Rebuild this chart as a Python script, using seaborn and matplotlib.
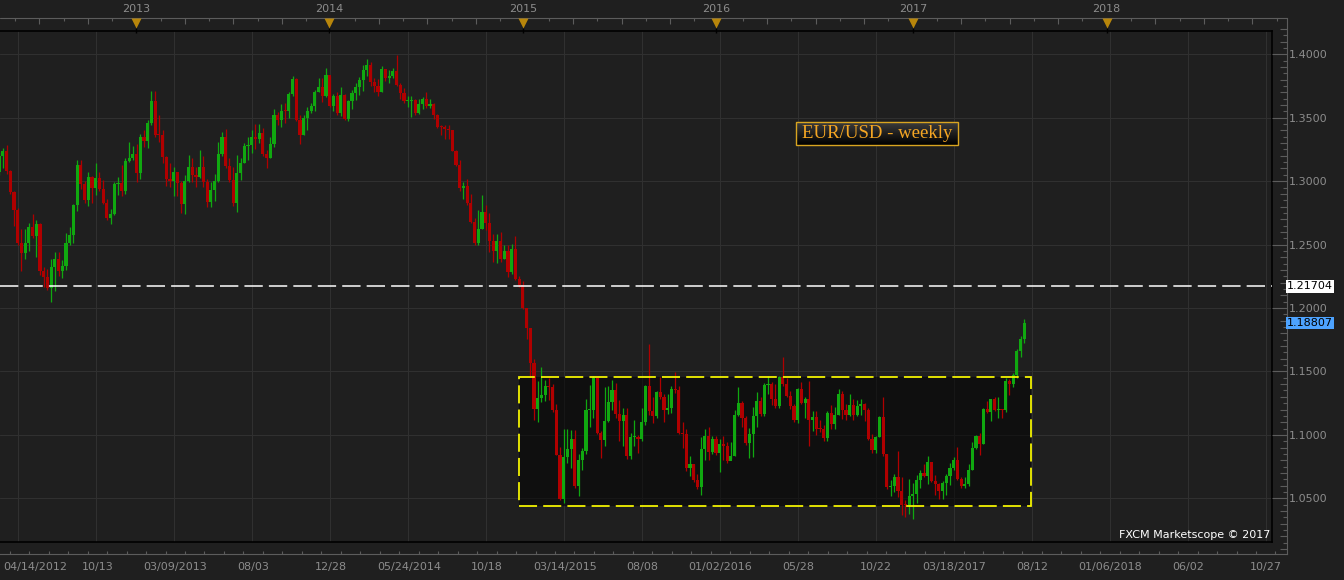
import numpy as np
import matplotlib.pyplot as plt
import seaborn as sns
from matplotlib.patches import Rectangle
from matplotlib.colors import LinearSegmentedColormap

BG = "#1f1f1f"
GRID = "#303030"
AXIS = "#5c5c5c"
LABEL = "#8c8c8c"
GREEN = "#10a810"
RED = "#b00000"
GOLD = "#b8860b"
YELLOW = "#f2f200"
BLUE = "#4da3ff"

sns.set_theme(style="dark", rc={"axes.facecolor": BG, "figure.facecolor": BG,
                                "savefig.facecolor": BG})
plt.rcParams["font.family"] = ["DejaVu Sans"]

# ── data: weekly EUR/USD candles, week 0 = 10/13/2012 ─────────────
week = np.arange(-26, 251)
first_open = 1.3075
close = np.array([
    1.3195, 1.3240, 1.3080, 1.2915, 1.2775, 1.2515, 1.2435, 1.2515, 1.2640, 1.2570,
    1.2665, 1.2290, 1.2245, 1.2155, 1.2320, 1.2385, 1.2290, 1.2335, 1.2510, 1.2575,
    1.2815, 1.3125, 1.2980, 1.2855, 1.3035, 1.2950, 1.3025, 1.2940, 1.2830, 1.2710,
    1.2740, 1.2975, 1.2985, 1.2925, 1.3160, 1.3185, 1.3215, 1.3065, 1.3345, 1.3315,
    1.3455, 1.3635, 1.3365, 1.3360, 1.3190, 1.3020, 1.3000, 1.3075, 1.2985, 1.2820,
    1.3000, 1.3110, 1.3050, 1.3030, 1.3115, 1.2990, 1.2835, 1.2930, 1.3000, 1.3215,
    1.3345, 1.3120, 1.3010, 1.2830, 1.3065, 1.3140, 1.3280, 1.3285, 1.3345, 1.3335,
    1.3380, 1.3215, 1.3180, 1.3295, 1.3525, 1.3485, 1.3555, 1.3550, 1.3685, 1.3805,
    1.3485, 1.3365, 1.3500, 1.3555, 1.3590, 1.3705, 1.3740, 1.3675, 1.3835, 1.3590,
    1.3670, 1.3540, 1.3676, 1.3487, 1.3635, 1.3693, 1.3740, 1.3801, 1.3874, 1.3913,
    1.3780, 1.3750, 1.3705, 1.3888, 1.3812, 1.3830, 1.3870, 1.3757, 1.3694, 1.3630,
    1.3635, 1.3642, 1.3540, 1.3605, 1.3645, 1.3590, 1.3605, 1.3525, 1.3430, 1.3425,
    1.3410, 1.3400, 1.3240, 1.3130, 1.2950, 1.2960, 1.2830, 1.2680, 1.2515, 1.2625,
    1.2760, 1.2670, 1.2525, 1.2450, 1.2525, 1.2390, 1.2450, 1.2285, 1.2465, 1.2230,
    1.2185, 1.2000, 1.1840, 1.1565, 1.1205, 1.1290, 1.1315, 1.1385, 1.1380, 1.1195,
    1.0845, 1.0495, 1.0825, 1.0890, 1.0970, 1.0600, 1.0805, 1.0875, 1.1195, 1.1200,
    1.1450, 1.1015, 1.0960, 1.1110, 1.1260, 1.1350, 1.1165, 1.1110, 1.1160, 1.0830,
    1.0980, 1.0985, 1.0970, 1.1105, 1.1385, 1.1185, 1.1150, 1.1335, 1.1300, 1.1195,
    1.1210, 1.1360, 1.1350, 1.1015, 1.1005, 1.0740, 1.0770, 1.0645, 1.0590, 1.0885,
    1.0990, 1.0865, 1.0965, 1.0860, 1.0925, 1.0915, 1.0795, 1.0830, 1.1155, 1.1255,
    1.1130, 1.0935, 1.1005, 1.1150, 1.1270, 1.1165, 1.1390, 1.1400, 1.1285, 1.1225,
    1.1455, 1.1405, 1.1310, 1.1225, 1.1115, 1.1365, 1.1250, 1.1280, 1.1115, 1.1140,
    1.1050, 1.1045, 1.0975, 1.1175, 1.1085, 1.1160, 1.1325, 1.1195, 1.1155, 1.1235,
    1.1155, 1.1225, 1.1240, 1.1200, 1.0970, 1.0880, 1.0985, 1.1140, 1.0850, 1.0590,
    1.0595, 1.0665, 1.0560, 1.0450, 1.0445, 1.0520, 1.0535, 1.0645, 1.0700, 1.0675,
    1.0785, 1.0640, 1.0615, 1.0560, 1.0620, 1.0675, 1.0740, 1.0800, 1.0650, 1.0595,
    1.0615, 1.0725, 1.0895, 1.0995, 1.0930, 1.1205, 1.1180, 1.1280, 1.1195, 1.1200,
    1.1195, 1.1425, 1.1400, 1.1470, 1.1665, 1.1755, 1.1881,
])
high = np.array([
    1.3230, 1.3265, 1.3285, 1.3085, 1.2920, 1.2790, 1.2625, 1.2625, 1.2670, 1.2745,
    1.2690, 1.2670, 1.2325, 1.2310, 1.2390, 1.2445, 1.2445, 1.2380, 1.2590, 1.2640,
    1.2820, 1.3170, 1.3170, 1.3000, 1.3070, 1.3040, 1.3140, 1.3070, 1.3010, 1.2860,
    1.2780, 1.2990, 1.3030, 1.3125, 1.3180, 1.3310, 1.3280, 1.3290, 1.3370, 1.3400,
    1.3480, 1.3710, 1.3710, 1.3520, 1.3400, 1.3200, 1.3140, 1.3115, 1.3050, 1.3000,
    1.3050, 1.3205, 1.3180, 1.3110, 1.3245, 1.3195, 1.3015, 1.2995, 1.3060, 1.3305,
    1.3390, 1.3415, 1.3180, 1.3110, 1.3205, 1.3185, 1.3300, 1.3345, 1.3400, 1.3450,
    1.3450, 1.3420, 1.3245, 1.3345, 1.3570, 1.3545, 1.3605, 1.3620, 1.3705, 1.3832,
    1.3815, 1.3525, 1.3520, 1.3585, 1.3620, 1.3720, 1.3810, 1.3810, 1.3893, 1.3830,
    1.3690, 1.3700, 1.3740, 1.3690, 1.3640, 1.3715, 1.3775, 1.3825, 1.3915, 1.3966,
    1.3940, 1.3810, 1.3805, 1.3905, 1.3865, 1.3875, 1.3890, 1.3993, 1.3775, 1.3735,
    1.3670, 1.3670, 1.3650, 1.3645, 1.3660, 1.3700, 1.3645, 1.3615, 1.3530, 1.3445,
    1.3445, 1.3445, 1.3380, 1.3245, 1.3170, 1.2995, 1.3015, 1.2900, 1.2710, 1.2770,
    1.2887, 1.2810, 1.2750, 1.2580, 1.2580, 1.2600, 1.2500, 1.2500, 1.2505, 1.2570,
    1.2255, 1.2215, 1.1975, 1.1830, 1.1600, 1.1425, 1.1535, 1.1435, 1.1450, 1.1405,
    1.1240, 1.0905, 1.1043, 1.1050, 1.1035, 1.1035, 1.0850, 1.0900, 1.1285, 1.1390,
    1.1465, 1.1450, 1.1030, 1.1380, 1.1385, 1.1435, 1.1410, 1.1275, 1.1215, 1.1215,
    1.1015, 1.1115, 1.1000, 1.1215, 1.1390, 1.1714, 1.1295, 1.1345, 1.1460, 1.1320,
    1.1320, 1.1385, 1.1495, 1.1385, 1.1100, 1.1045, 1.0835, 1.0770, 1.0690, 1.0980,
    1.1045, 1.1060, 1.0990, 1.0990, 1.0970, 1.0990, 1.0945, 1.0945, 1.1200, 1.1376,
    1.1270, 1.1145, 1.1055, 1.1218, 1.1340, 1.1300, 1.1410, 1.1465, 1.1415, 1.1400,
    1.1465, 1.1616, 1.1445, 1.1345, 1.1240, 1.1370, 1.1415, 1.1300, 1.1428, 1.1185,
    1.1185, 1.1120, 1.1080, 1.1190, 1.1235, 1.1220, 1.1365, 1.1345, 1.1245, 1.1325,
    1.1285, 1.1275, 1.1280, 1.1255, 1.1215, 1.1010, 1.0990, 1.1145, 1.1300, 1.0850,
    1.0645, 1.0690, 1.0874, 1.0665, 1.0490, 1.0650, 1.0620, 1.0685, 1.0725, 1.0770,
    1.0830, 1.0785, 1.0680, 1.0620, 1.0635, 1.0690, 1.0775, 1.0825, 1.0905, 1.0665,
    1.0670, 1.0770, 1.0947, 1.1000, 1.1015, 1.1210, 1.1265, 1.1285, 1.1295, 1.1295,
    1.1205, 1.1445, 1.1440, 1.1490, 1.1675, 1.1777, 1.1910,
])
low = np.array([
    1.3050, 1.3100, 1.3060, 1.2900, 1.2650, 1.2495, 1.2290, 1.2385, 1.2450, 1.2550,
    1.2405, 1.2260, 1.2165, 1.2145, 1.2050, 1.2135, 1.2250, 1.2240, 1.2300, 1.2500,
    1.2510, 1.2765, 1.2935, 1.2830, 1.2805, 1.2830, 1.2890, 1.2925, 1.2820, 1.2690,
    1.2665, 1.2730, 1.2890, 1.2880, 1.2900, 1.3150, 1.3170, 1.2995, 1.3020, 1.3270,
    1.3260, 1.3440, 1.3350, 1.3310, 1.3145, 1.2965, 1.2955, 1.2880, 1.2880, 1.2750,
    1.2740, 1.2990, 1.2995, 1.2955, 1.3025, 1.2955, 1.2795, 1.2800, 1.2845, 1.2995,
    1.3200, 1.3100, 1.2990, 1.2805, 1.2755, 1.3010, 1.3140, 1.3170, 1.3225, 1.3250,
    1.3300, 1.3200, 1.3105, 1.3180, 1.3270, 1.3440, 1.3425, 1.3460, 1.3500, 1.3675,
    1.3475, 1.3296, 1.3360, 1.3400, 1.3540, 1.3550, 1.3700, 1.3625, 1.3660, 1.3585,
    1.3550, 1.3520, 1.3510, 1.3480, 1.3475, 1.3570, 1.3640, 1.3680, 1.3710, 1.3830,
    1.3750, 1.3705, 1.3670, 1.3700, 1.3790, 1.3775, 1.3810, 1.3750, 1.3650, 1.3615,
    1.3585, 1.3503, 1.3520, 1.3530, 1.3565, 1.3575, 1.3580, 1.3490, 1.3420, 1.3365,
    1.3335, 1.3335, 1.3235, 1.3120, 1.2920, 1.2860, 1.2815, 1.2670, 1.2500, 1.2500,
    1.2620, 1.2615, 1.2440, 1.2360, 1.2355, 1.2360, 1.2385, 1.2245, 1.2270, 1.2220,
    1.2165, 1.1995, 1.1755, 1.1460, 1.1115, 1.1098, 1.1260, 1.1270, 1.1275, 1.1180,
    1.0840, 1.0485, 1.0462, 1.0780, 1.0735, 1.0580, 1.0520, 1.0720, 1.0850, 1.1065,
    1.1135, 1.1010, 1.0820, 1.0910, 1.1100, 1.1200, 1.1130, 1.0955, 1.0915, 1.0810,
    1.0810, 1.0910, 1.0860, 1.0955, 1.1080, 1.1155, 1.1090, 1.1135, 1.1285, 1.1105,
    1.1165, 1.1170, 1.1330, 1.1010, 1.0895, 1.0715, 1.0675, 1.0630, 1.0570, 1.0524,
    1.0800, 1.0805, 1.0850, 1.0845, 1.0710, 1.0805, 1.0775, 1.0810, 1.0830, 1.1150,
    1.1065, 1.0920, 1.0820, 1.0822, 1.1060, 1.1145, 1.1145, 1.1325, 1.1235, 1.1215,
    1.1215, 1.1385, 1.1300, 1.1205, 1.1100, 1.1095, 1.1240, 1.1130, 1.0912, 1.1030,
    1.1000, 1.1020, 1.0950, 1.0950, 1.1045, 1.1045, 1.1160, 1.1125, 1.1120, 1.1145,
    1.1120, 1.1150, 1.1160, 1.1110, 1.0960, 1.0860, 1.0860, 1.0980, 1.0835, 1.0570,
    1.0515, 1.0550, 1.0510, 1.0365, 1.0350, 1.0375, 1.0340, 1.0460, 1.0585, 1.0665,
    1.0615, 1.0630, 1.0525, 1.0495, 1.0495, 1.0525, 1.0605, 1.0725, 1.0645, 1.0585,
    1.0580, 1.0600, 1.0725, 1.0885, 1.0840, 1.0930, 1.1170, 1.1110, 1.1185, 1.1135,
    1.1130, 1.1180, 1.1315, 1.1375, 1.1445, 1.1615, 1.1728,
])

# x labels: the first candle's date sits at the left edge, the rest on gridlines
first_label = "04/14/2012"
grid_weeks = [-21, 0, 21, 42, 63, 84, 105, 126, 147, 168, 189, 210, 231, 252,
              273, 294, 315]
grid_labels = ["", "10/13", "03/09/2013", "08/03", "12/28", "05/24/2014", "10/18",
               "03/14/2015", "08/08", "01/02/2016", "05/28", "10/22", "03/18/2017",
               "08/12", "01/06/2018", "06/02", "10/27"]
year_weeks = [10.93, 62.9, 115.1, 167.1, 220.1, 272.2]
year_labels = ["2013", "2014", "2015", "2016", "2017", "2018"]
price_ticks = [1.05, 1.10, 1.15, 1.20, 1.25, 1.30, 1.35, 1.40]
support = 1.21704
last_price = 1.18807
range_weeks = (114.0, 251.7)
range_prices = (1.0439, 1.1454)

# ── pixel geometry ────────────────────────────────────
W, H = 1344, 580
PXW = 78 / 21      # px per week
X0PX = 95.7        # px of week 0
Y140 = 54.3        # px of 1.4000
PXP = 1268.6       # px per price unit


def wk(px):
    return (px - X0PX) / PXW


def pr(py):
    return 1.4 - (py - Y140) / PXP


def rect(x0, y0, x1, y1):
    return [x0 / W, 1 - y1 / H, (x1 - x0) / W, (y1 - y0) / H]


fig = plt.figure(figsize=(W / 100, H / 100), dpi=100)

# ── main panel ────────────────────────────────────────
ax = fig.add_axes(rect(0, 31, 1272, 542))
ax.set_facecolor(BG)
ax.set_xticks(grid_weeks)
ax.set_yticks(price_ticks)
ax.grid(True, color=GRID, lw=0.8)
ax.set_axisbelow(True)
ax.tick_params(length=0, labelbottom=False, labelleft=False)
for s in ["top", "right", "bottom"]:
    ax.spines[s].set_color("black")
    ax.spines[s].set_linewidth(1.2)
ax.spines["left"].set_visible(False)

# range box
rx0, rx1 = range_weeks
ry0, ry1 = range_prices
ax.add_patch(Rectangle((rx0, ry0), rx1 - rx0, ry1 - ry0, fc=(0, 0, 0, 0.5),
                       ec="none", zorder=1))
ax.add_patch(Rectangle((rx0, ry0), rx1 - rx0, ry1 - ry0, fill=False, ec=YELLOW,
                       lw=1.3, ls=(0, (10, 3.4)), zorder=6))

# candles
opens = np.r_[first_open, close[:-1]]
up = close >= opens
cols = np.where(up, GREEN, RED)
ax.vlines(week, low, high, colors=cols, lw=0.9, zorder=3)
body = np.maximum(np.abs(close - opens), 0.0008)
ax.bar(week, body, bottom=np.minimum(opens, close), width=0.85, color=cols,
       lw=0, zorder=4)

ax.axhline(support, color="white", lw=1.1, ls=(0, (12, 4)), zorder=7)

# title box with gradient
tx0, tx1, ty0, ty1 = wk(796), wk(958), pr(145), pr(122.3)
cmap = LinearSegmentedColormap.from_list("g", ["#3c3c3c", "#000000"])
ax.imshow(np.linspace(0, 1, 40).reshape(-1, 1), cmap=cmap, aspect="auto",
          extent=[tx0, tx1, ty0, ty1], origin="upper", zorder=5)
ax.add_patch(Rectangle((tx0, ty0), tx1 - tx0, ty1 - ty0, fill=False,
                       ec="#d9a520", lw=1.0, zorder=6))
ax.text((tx0 + tx1) / 2, (ty0 + ty1) / 2, "EUR/USD - weekly", ha="center",
        va="center", color="#f5a623", fontsize=13.5, family="Liberation Serif",
        zorder=7)

ax.text(1270 / 1272, 7 / 511, "FXCM Marketscope \u00a9 2017", transform=ax.transAxes,
        ha="right", va="center", color="white", fontsize=8, zorder=8)

ax.set_xlim(wk(0), wk(1272))
ax.set_ylim(pr(542), pr(31))

# ── right price axis ──────────────────────────────────
axr = fig.add_axes(rect(1272, 18, 1287, 554))
axr.patch.set_alpha(0)
axr.set_xlim(0, 15)
axr.set_ylim(pr(554), pr(18))
for s in ["top", "left", "bottom"]:
    axr.spines[s].set_visible(False)
axr.spines["right"].set_color(AXIS)
axr.spines["right"].set_linewidth(0.8)
axr.set_xticks([])
axr.yaxis.tick_right()
axr.set_yticks(price_ticks, labels=[f"{p:.4f}" for p in price_ticks])
cents = [round(1.0 + k * 0.01, 2) for k in range(1, 43)]
axr.set_yticks([c for c in cents if round(c * 100) % 5 != 0], minor=True)
axr.tick_params(axis="y", which="major", direction="in", length=10.8, width=0.8,
                color=AXIS, labelcolor=LABEL, labelsize=8, pad=1.5)
axr.tick_params(axis="y", which="minor", direction="in", length=5.4, width=0.8,
                color=AXIS)
axr.hlines([c - 0.005 for c in cents], 11.3, 15, color=AXIS, lw=0.8)
axr.text(15, support, f"{support:.5f}", ha="left", va="center", fontsize=8,
         color="black", clip_on=False,
         bbox=dict(boxstyle="square,pad=0.1", fc="white", ec="none"))
axr.text(15, last_price, f"{last_price:.5f}", ha="left", va="center", fontsize=8,
         color="black", clip_on=False,
         bbox=dict(boxstyle="square,pad=0.1", fc=BLUE, ec="none"))

# ── bottom date axis ──────────────────────────────────
axb = fig.add_axes(rect(0, 542, 1287, 554))
axb.patch.set_alpha(0)
axb.set_xlim(wk(0), wk(1287))
axb.set_ylim(0, 12)
for s in ["top", "left", "right"]:
    axb.spines[s].set_visible(False)
axb.spines["bottom"].set_color(AXIS)
axb.spines["bottom"].set_linewidth(0.8)
axb.set_yticks([])
axb.set_xticks(grid_weeks, labels=grid_labels)
quarters = [-21 + 5.25 * k for k in range(-1, 66)]
axb.set_xticks(quarters, minor=True)
axb.tick_params(axis="x", which="major", direction="in", length=8.6, width=0.8,
                color=AXIS, labelcolor=LABEL, labelsize=8, pad=6)
axb.tick_params(axis="x", which="minor", direction="in", length=4.3, width=0.8,
                color=AXIS)
axb.vlines([q + 2.625 for q in quarters], 0, 3, color=AXIS, lw=0.8)
axb.text(wk(1), -8.3, first_label, ha="left", va="top", color=LABEL, fontsize=8)

# ── top year band ─────────────────────────────────────
axt = fig.add_axes(rect(0, 0, 1287, 31))
axt.set_xlim(wk(0), wk(1287))
axt.set_ylim(31, 0)
axt.axis("off")
axt.axhline(18, color=AXIS, lw=0.8)
step = (year_weeks[-1] - year_weeks[0]) / 40
for j in range(-8, 56):
    if j % 8 == 0:
        continue
    xj = year_weeks[0] + j * step
    axt.vlines(xj, 18, 24 if j % 2 == 0 else 21, color=AXIS, lw=0.8)
axt.vlines(year_weeks, 27.5, 33, color="black", lw=1.0, clip_on=False)
axt.plot(year_weeks, [23] * len(year_weeks), "v", ms=6.5, color=GOLD, mec="none")
for xw, lab in zip(year_weeks, year_labels):
    axt.text(xw, 9, lab, ha="center", va="center", color=LABEL, fontsize=8)

fig.savefig("out.png", dpi=100)
